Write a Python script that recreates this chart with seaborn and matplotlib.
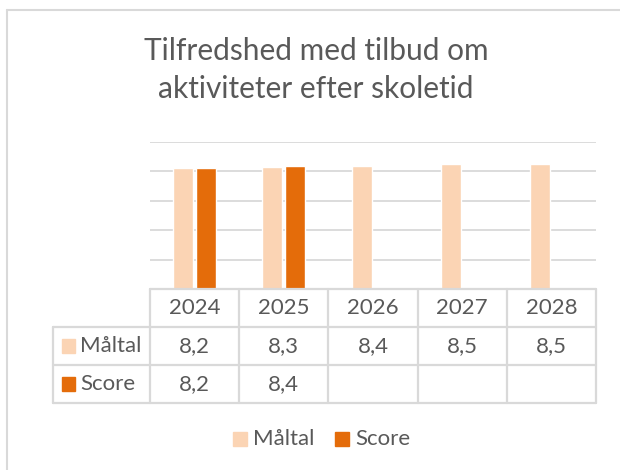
import matplotlib.pyplot as plt
import matplotlib.transforms as mtransforms
from matplotlib.lines import Line2D
from matplotlib.patches import Rectangle
import numpy as np
import pandas as pd
import seaborn as sns

# Data
years = ['2024', '2025', '2026', '2027', '2028']
maaltal = [8.2, 8.3, 8.4, 8.5, 8.5]
score = [8.2, 8.4, np.nan, np.nan, np.nan]
series = ['Måltal', 'Score']
colors = {'Måltal': '#FBD4B4', 'Score': '#E46C0A'}
title = 'Tilfredshed med tilbud om\naktiviteter efter skoletid'

df = pd.DataFrame({
    'year': years * 2,
    'value': maaltal + score,
    'series': ['Måltal'] * len(years) + ['Score'] * len(years),
})

sns.set_style('white')
plt.rcParams['font.family'] = ['Lato', 'DejaVu Sans']
txt = '#595959'
grid = '#D9D9D9'

W, H = 620, 470
fig = plt.figure(figsize=(W / 100, H / 100), dpi=100)

def fx(px):
    return px / W

def fy(py):
    return 1 - py / H

# plot area in pixel coordinates of the reference
left, right, top, bottom = 150, 596, 142, 289
ax = fig.add_axes([fx(left), fy(bottom), fx(right - left), fy(top) - fy(bottom)])

sns.barplot(data=df, x='year', y='value', hue='series', order=years,
            hue_order=series, palette=colors, width=0.51, gap=0.12,
            legend=False, ax=ax, saturation=1)
ax.set_xlim(-0.5, len(years) - 0.5)
ax.set_ylim(0, 10)
ax.set_yticks(np.arange(0, 11, 2))
ax.yaxis.grid(True, color=grid, linewidth=1.3)
ax.set_axisbelow(True)
ax.set_xticks([])
ax.set_yticklabels([])
ax.tick_params(left=False, bottom=False)
ax.set_xlabel('')
ax.set_ylabel('')
for s in ax.spines.values():
    s.set_visible(False)

# data table below the plot area
trans = mtransforms.blended_transform_factory(ax.transData, fig.transFigure)
row_edges = [289, 327, 365, 403]
label_left = 53
lw = 1.6

# horizontal lines
fig.add_artist(Line2D([fx(left), fx(right)], [fy(row_edges[0])] * 2,
                      color=grid, lw=lw, transform=fig.transFigure))
for r in row_edges[1:]:
    fig.add_artist(Line2D([fx(label_left), fx(right)], [fy(r)] * 2,
                          color=grid, lw=lw, transform=fig.transFigure))
# vertical lines
for i in range(len(years) + 1):
    xe = i - 0.5
    fig.add_artist(Line2D([xe, xe], [fy(row_edges[0]), fy(row_edges[-1])],
                          color=grid, lw=lw, transform=trans))
fig.add_artist(Line2D([fx(label_left)] * 2, [fy(row_edges[1]), fy(row_edges[-1])],
                      color=grid, lw=lw, transform=fig.transFigure))

fs = 16
for i, y in enumerate(years):
    fig.text(i, fy((row_edges[0] + row_edges[1]) / 2), y, transform=trans,
             ha='center', va='center', fontsize=fs, color=txt)
for row, (name, vals) in enumerate(zip(series, [maaltal, score])):
    yc = fy((row_edges[row + 1] + row_edges[row + 2]) / 2)
    for i, v in enumerate(vals):
        if not np.isnan(v):
            fig.text(i, yc, f'{v:.1f}'.replace('.', ','), transform=trans,
                     ha='center', va='center', fontsize=fs, color=txt)
    fig.add_artist(Rectangle((fx(62), yc - 6.5 / H), 12.5 / W, 13.5 / H,
                             color=colors[name], transform=fig.transFigure))
    fig.text(fx(80), yc, name, ha='left', va='center', fontsize=fs, color=txt)

# legend at the bottom
ly = fy(439)
for name, px in zip(series, [233, 335]):
    fig.add_artist(Rectangle((fx(px), ly - 7 / H), 14 / W, 14 / H,
                             color=colors[name], transform=fig.transFigure))
    fig.text(fx(px + 20), ly, name, ha='left', va='center', fontsize=fs, color=txt)

# title
fig.text(fx(316), fy(70), title, ha='center', va='center', fontsize=21.5,
         color=txt, linespacing=1.45)

# chart border (top and left visible only)
fig.add_artist(Line2D([fx(7), 1], [fy(10)] * 2, color=grid, lw=1.5,
                      transform=fig.transFigure))
fig.add_artist(Line2D([fx(7)] * 2, [fy(10), 0], color=grid, lw=1.5,
                      transform=fig.transFigure))

fig.savefig('out.png', dpi=100, facecolor='white')
